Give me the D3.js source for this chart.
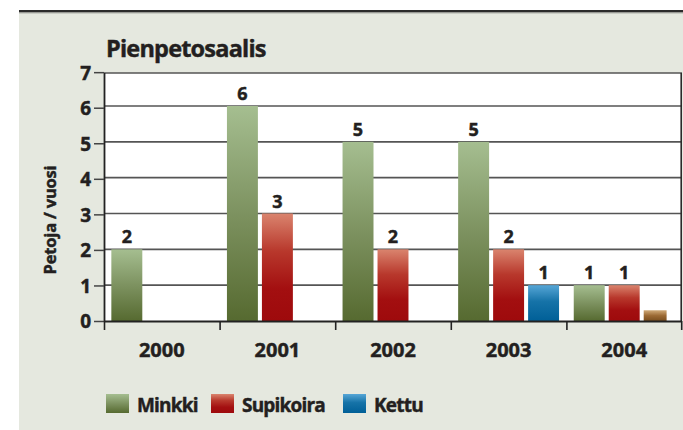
<!DOCTYPE html>
<html>
<head>
<meta charset="utf-8">
<script src="https://cdn.jsdelivr.net/npm/d3@7"></script>
<style>
  html, body { margin: 0; padding: 0; background: #ffffff; }
  svg { display: block; }
  text { font-family: "Open Sans", "DejaVu Sans", sans-serif; font-weight: 700; fill: #231f20; stroke: #231f20; stroke-width: 0.45px; }
</style>
</head>
<body>
<svg id="chart" width="683" height="430"></svg>
<script>
// ---- data ----
const title = "Pienpetosaalis";
const yAxisTitle = "Petoja / vuosi";
const years = ["2000", "2001", "2002", "2003", "2004"];
const seriesNames = ["Minkki", "Supikoira", "Kettu"];
const minkki = [2, 6, 5, 5, 1];
const supikoira = [0, 3, 2, 2, 1];
const kettu = [0, 0, 0, 1, 0];
const muu = [0, 0, 0, 0, 0.3];   // small unlabeled brown bar in 2004
const yTicks = [0, 1, 2, 3, 4, 5, 6, 7];

// ---- layout ----
const W = 683, H = 430;
const plot = { left: 104, right: 682, top: 73, bottom: 321 };
const svg = d3.select("#chart");
const defs = svg.append("defs");

function grad(id, stops) {
  const g = defs.append("linearGradient").attr("id", id)
    .attr("x1", 0).attr("y1", 0).attr("x2", 0).attr("y2", 1);
  stops.forEach(s => g.append("stop").attr("offset", s[0]).attr("stop-color", s[1]));
}
grad("gGreen", [[0, "#a5be90"], [0.5, "#7d9260"], [1, "#566a30"]]);
grad("gRed", [[0, "#da846e"], [0.35, "#b8382c"], [0.7, "#a30f10"], [1, "#9e0a0c"]]);
grad("gBlue", [[0, "#56a6d6"], [0.45, "#1673a8"], [1, "#005f97"]]);
grad("gBrown", [[0, "#d0aa78"], [0.5, "#9c6a34"], [1, "#7a4e1e"]]);

const colors = { Minkki: "url(#gGreen)", Supikoira: "url(#gRed)", Kettu: "url(#gBlue)", Muu: "url(#gBrown)" };

// panel background
svg.append("rect").attr("x", 19).attr("y", 11).attr("width", W - 19).attr("height", H - 11).attr("fill", "#e5e8df");
svg.append("line").attr("x1", 19).attr("x2", W).attr("y1", 11.2).attr("y2", 11.2)
  .attr("stroke", "#2b2b2b").attr("stroke-width", 2.6);
svg.append("line").attr("x1", 19).attr("x2", W).attr("y1", 13.3).attr("y2", 13.3)
  .attr("stroke", "#c9ccc4").attr("stroke-width", 1.2);

// scales
const x0 = d3.scaleBand().domain(years).range([plot.left, plot.right]).padding(0);
const x1 = d3.scaleBand().domain(seriesNames).range([0, x0.bandwidth()])
  .paddingInner(0.115).paddingOuter(0.21);
const y = d3.scaleLinear().domain([0, 6]).range([plot.bottom, 106]);

// plot area
svg.append("rect").attr("x", plot.left).attr("y", plot.top)
  .attr("width", plot.right - plot.left).attr("height", plot.bottom - plot.top).attr("fill", "#ffffff");

// gridlines
svg.append("g").selectAll("line").data(yTicks.filter(t => t > 0 && t < 7)).join("line")
  .attr("x1", plot.left).attr("x2", plot.right)
  .attr("y1", d => y(d)).attr("y2", d => y(d))
  .attr("stroke", "#555555").attr("stroke-width", 1.6);
// top border
svg.append("line").attr("x1", plot.left).attr("x2", plot.right).attr("y1", plot.top).attr("y2", plot.top)
  .attr("stroke", "#555555").attr("stroke-width", 1.6);
// right border
svg.append("line").attr("x1", plot.right - 0.8).attr("x2", plot.right - 0.8).attr("y1", plot.top).attr("y2", plot.bottom)
  .attr("stroke", "#2b2b2b").attr("stroke-width", 1.6);

// bars
const series = [
  { name: "Minkki", values: minkki, slot: "Minkki", widthFactor: 1 },
  { name: "Supikoira", values: supikoira, slot: "Supikoira", widthFactor: 1 },
  { name: "Kettu", values: kettu, slot: "Kettu", widthFactor: 1 },
  { name: "Muu", values: muu, slot: "Kettu", widthFactor: 0.74, noLabel: true }
];
const barData = [];
series.forEach(s => s.values.forEach((v, i) => {
  if (v > 0) barData.push({ year: years[i], value: v, s });
}));

svg.append("g").selectAll("rect").data(barData).join("rect")
  .attr("x", d => x0(d.year) + x1(d.s.slot))
  .attr("width", d => x1.bandwidth() * d.s.widthFactor)
  .attr("y", d => y(d.value))
  .attr("height", d => y(0) - y(d.value))
  .attr("fill", d => colors[d.s.name]);

// value labels
svg.append("g").selectAll("text").data(barData.filter(d => !d.s.noLabel)).join("text")
  .attr("x", d => x0(d.year) + x1(d.s.slot) + x1.bandwidth() / 2)
  .attr("y", d => y(d.value) - 6)
  .attr("text-anchor", "middle")
  .style("font-size", "18px")
  .text(d => d3.format("d")(d.value));

// y axis
const yAxis = d3.axisLeft(d3.scaleLinear().domain([0, 7]).range([plot.bottom, y(7) + 2]))
  .tickValues(yTicks).tickFormat(d3.format("d")).tickSize(10).tickPadding(3);
const gy = svg.append("g").attr("transform", `translate(${plot.left},0)`).call(yAxis);
gy.select(".domain").attr("stroke", "#222").attr("stroke-width", 1.8).attr("d", `M0.5,${plot.top}V${plot.bottom}`);
gy.selectAll(".tick line").attr("stroke", "#444").attr("stroke-width", 1.5);
gy.selectAll(".tick text").style("font-size", "19px").attr("fill", "#231f20")
  .style("font-family", "'Open Sans', sans-serif").style("font-weight", 700).attr("dy", "0.36em");

// x axis
const xAxis = d3.axisBottom(x0).tickSize(0).tickPadding(22).tickFormat(d => d);
const gx = svg.append("g").attr("transform", `translate(0,${plot.bottom})`).call(xAxis);
gx.select(".domain").attr("stroke", "#222").attr("stroke-width", 2).attr("d", `M${plot.left},0.5H${plot.right}`);
gx.selectAll(".tick text").style("font-size", "20px").attr("fill", "#231f20")
  .style("font-family", "'Open Sans', sans-serif").style("font-weight", 700);
// boundary ticks between years
const bounds = years.map(d => x0(d)).concat([plot.right - 0.8]);
svg.append("g").selectAll("line").data(bounds).join("line")
  .attr("x1", d => d + 0.5).attr("x2", d => d + 0.5)
  .attr("y1", plot.bottom).attr("y2", plot.bottom + 9)
  .attr("stroke", "#222").attr("stroke-width", 1.6);

// title
svg.append("text").attr("x", 106).attr("y", 57).style("font-size", "23.5px")
  .style("letter-spacing", "-0.8px").text(title);

// y axis title
svg.append("text").attr("transform", "translate(56,220) rotate(-90)")
  .attr("text-anchor", "middle").style("font-size", "16.5px").style("letter-spacing", "-0.2px")
  .text(yAxisTitle);

// legend
const legendX = [106, 211, 343];
const lg = svg.append("g").selectAll("g").data(seriesNames).join("g")
  .attr("transform", (d, i) => `translate(${legendX[i]},394)`);
lg.append("rect").attr("width", 23).attr("height", 19).attr("fill", d => colors[d]);
lg.append("text").attr("x", 31).attr("y", 17.5).style("font-size", "19px")
  .style("letter-spacing", "-0.8px").text(d => d);
</script>
</body>
</html>
